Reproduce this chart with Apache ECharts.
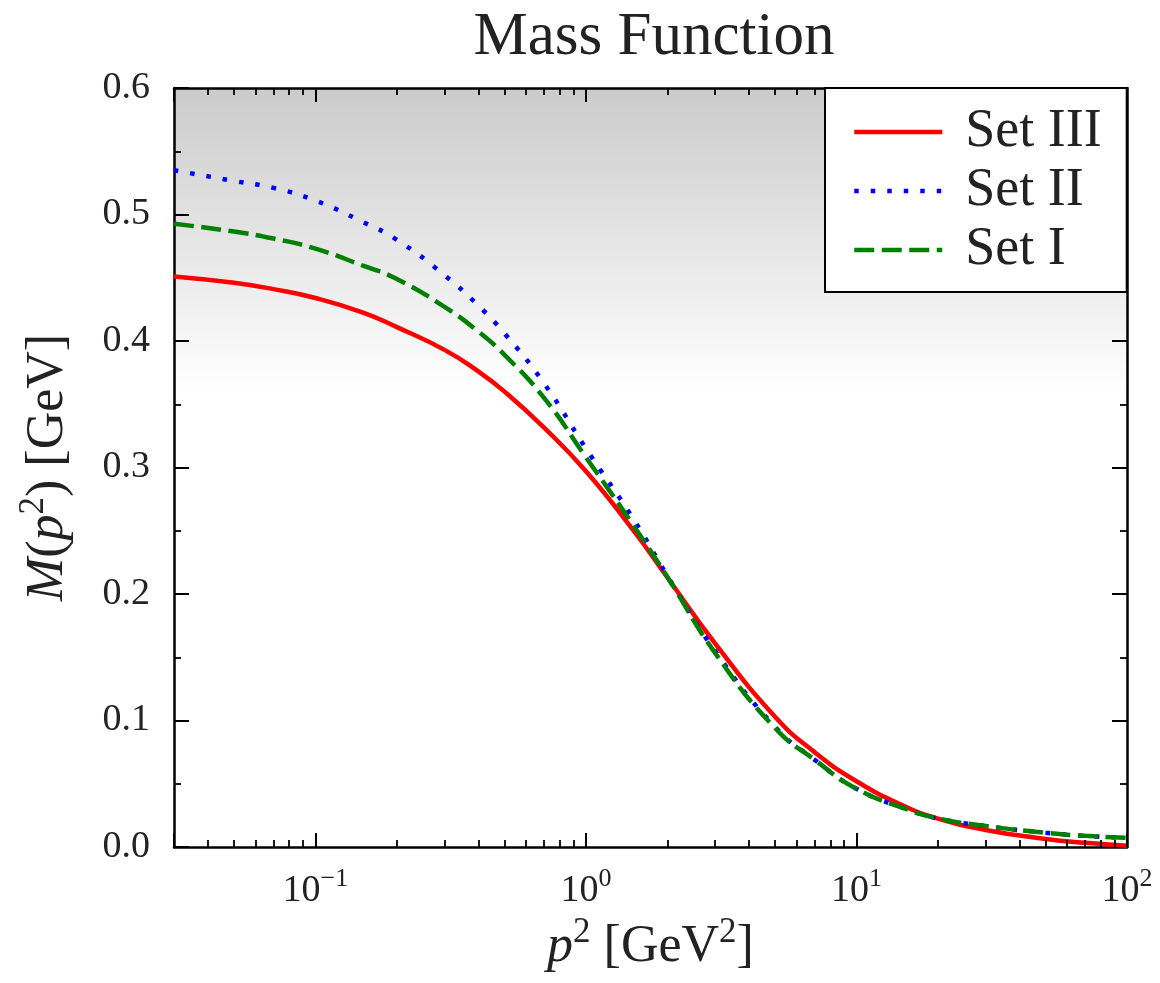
<!DOCTYPE html>
<html>
<head>
<meta charset="utf-8">
<script src="https://cdn.jsdelivr.net/npm/echarts@6/dist/echarts.min.js"></script>
<style>
  html, body { margin: 0; padding: 0; background: #fff; }
  #chart { width: 1160px; height: 983px; }
</style>
</head>
<body>
<div id="chart"></div>
<script>
// p^2 sample points in GeV^2
const momentum = [0.03, 0.05, 0.07, 0.1, 0.15, 0.2, 0.3, 0.4, 0.5, 0.7, 1.0, 1.5, 2, 3, 5, 7, 10, 15, 20, 30, 50, 70, 100];

// M(p^2) in GeV for each parameter set
const setIII = [0.451, 0.446, 0.441, 0.434, 0.4225, 0.411, 0.393, 0.376, 0.360, 0.3315, 0.297, 0.250, 0.213, 0.161, 0.103, 0.075, 0.052, 0.0324, 0.0225, 0.0135, 0.0064, 0.0033, 0.001];
const setII  = [0.535, 0.5265, 0.521, 0.511, 0.494, 0.480, 0.452, 0.428, 0.406, 0.3665, 0.315, 0.259, 0.2143, 0.155, 0.095, 0.069, 0.046, 0.0306, 0.0226, 0.0166, 0.0113, 0.0088, 0.0071];
const setI   = [0.4927, 0.4865, 0.481, 0.473, 0.4595, 0.449, 0.427, 0.4075, 0.389, 0.355, 0.308, 0.254, 0.2135, 0.1535, 0.094, 0.069, 0.046, 0.0306, 0.0226, 0.0166, 0.0113, 0.0088, 0.0072];

// x-axis decades that get a label, and the mantissas of the minor log ticks
const majorTicksX = [0.1, 1, 10, 100];
const minorMantissas = [2, 3, 4, 5, 6, 7, 8, 9];
const minorDecades = [0.01, 0.1, 1, 10];

const FONT = 'Liberation Serif';
const INK = '#222222';
const X_MIN = 0.03, X_MAX = 100;
const Y_MIN = 0, Y_MAX = 0.6;
// tick lengths along the vertical axis, in M units (about 14 px and 7 px)
const MAJOR_TICK_LEN = 0.011, MINOR_TICK_LEN = 0.0055;

const chart = echarts.init(document.getElementById('chart'), null, { renderer: 'canvas' });

function nameRich(size) {
  return {
    i: { fontFamily: FONT, fontStyle: 'italic', fontSize: size, color: INK, verticalAlign: 'bottom', lineHeight: size + 6 },
    r: { fontFamily: FONT, fontSize: size, color: INK, verticalAlign: 'bottom', lineHeight: size + 6 },
    s: { fontFamily: FONT, fontSize: Math.round(size * 0.68), color: INK, verticalAlign: 'top', lineHeight: size + 6 }
  };
}

function spine(show) {
  return { show: show, onZero: false, lineStyle: { color: '#000000', width: 2.5 } };
}

// Log x axis (bottom) carrying the data, decade labels and the axis title,
// plus a bare mirror on top for the frame.
const xAxes = [
  {
    type: 'log', logBase: 10, min: X_MIN, max: X_MAX, gridIndex: 0,
    position: 'bottom',
    axisLine: spine(true),
    axisTick: { show: true, inside: true, length: 14, lineStyle: { color: '#000000', width: 2 } },
    splitLine: { show: false },
    axisLabel: {
      show: true,
      customValues: majorTicksX.slice(),
      margin: 19,
      formatter: function (v) {
        const e = Math.round(Math.log10(v));
        return '{n|10}{s|' + (e < 0 ? '\u2212' + (-e) : e) + '}';
      },
      rich: {
        n: { fontFamily: FONT, fontSize: 38, color: INK, verticalAlign: 'bottom', lineHeight: 44 },
        s: { fontFamily: FONT, fontSize: 26, color: INK, verticalAlign: 'top', lineHeight: 44 }
      }
    },
    name: '{i|p}{s|2}{r| [GeV}{s|2}{r|]}',
    nameLocation: 'middle',
    nameGap: 63,
    nameTextStyle: { rich: nameRich(52) }
  },
  {
    type: 'log', logBase: 10, min: X_MIN, max: X_MAX, gridIndex: 0,
    position: 'top',
    axisLine: spine(true),
    axisTick: { show: true, inside: true, length: 14, lineStyle: { color: '#000000', width: 2 } },
    axisLabel: { show: false },
    splitLine: { show: false }
  }
];

function valueAxis(position, withLabels) {
  const ax = {
    type: 'value', min: Y_MIN, max: Y_MAX, interval: 0.1, gridIndex: 0,
    position: position,
    axisLine: spine(true),
    axisTick: { show: true, inside: true, length: 15, lineStyle: { color: '#000000', width: 2 } },
    minorTick: { show: true, splitNumber: 2, length: 7, lineStyle: { color: '#000000', width: 1.8 } },
    axisLabel: { show: false },
    splitLine: { show: false },
    minorSplitLine: { show: false }
  };
  if (withLabels) {
    ax.axisLabel = {
      show: true, margin: 24,
      formatter: (v) => v.toFixed(1),
      fontFamily: FONT, fontSize: 38, color: INK
    };
    ax.name = '{i|M}{r|(}{i|p}{s|2}{r|) [GeV]}';
    ax.nameLocation = 'middle';
    ax.nameGap = 100;
    ax.nameTextStyle = { rich: nameRich(52) };
  }
  return ax;
}

// tick list for the log axis: [position, isMajor]
const xTickList = majorTicksX.map((v) => [v, 1]);
minorDecades.forEach((d) => minorMantissas.forEach((m) => {
  const v = +(m * d).toPrecision(6);
  if (v > X_MIN && v < X_MAX) xTickList.push([v, 0]);
}));

// inward tick segments on the bottom and top spines, in data coordinates
const tickSegments = [];
xTickList.forEach(([v, major]) => {
  const len = major ? MAJOR_TICK_LEN : MINOR_TICK_LEN;
  const style = { color: '#000000', width: major ? 2 : 1.8, type: 'solid' };
  tickSegments.push([{ coord: [v, Y_MIN], lineStyle: style }, { coord: [v, Y_MIN + len] }]);
  tickSegments.push([{ coord: [v, Y_MAX], lineStyle: style }, { coord: [v, Y_MAX - len] }]);
});

const pairs = (ys) => momentum.map((x, i) => [x, ys[i]]);

const option = {
  backgroundColor: '#ffffff',
  animation: false,
  title: {
    text: 'Mass Function',
    left: 649, top: 2, textAlign: 'center',
    textStyle: { fontFamily: FONT, fontSize: 61, fontWeight: 'normal', color: INK }
  },
  grid: {
    left: 174, top: 88, width: 953, height: 759,
    containLabel: false, outerBoundsMode: 'none',
    show: true, borderWidth: 0,
    // grey shading that fades out below M = 0.36
    backgroundColor: new echarts.graphic.LinearGradient(0, 0, 0, 1, [
      { offset: 0, color: '#cbcbcb' },
      { offset: 0.4, color: '#ffffff' },
      { offset: 1, color: '#ffffff' }
    ])
  },
  xAxis: xAxes,
  yAxis: [
    valueAxis('left', true),
    valueAxis('right', false)
  ],
  legend: {
    data: ['Set III', 'Set II', 'Set I'],
    orient: 'vertical',
    left: 825, top: 88,
    padding: [17, 25, 15, 27],
    itemWidth: 88, itemHeight: 20, itemGap: 5,
    backgroundColor: '#ffffff',
    borderColor: '#000000', borderWidth: 2, borderRadius: 0,
    selectedMode: false,
    itemStyle: { opacity: 0 },
    lineStyle: { width: 4.5 },
    textStyle: { fontFamily: FONT, fontSize: 54, color: INK, padding: [0, 0, 0, 18] },
    z: 100
  },
  series: [
    {
      type: 'line', name: 'Set III', data: pairs(setIII), smooth: 0.5,
      xAxisIndex: 0, yAxisIndex: 0,
      symbol: 'none', z: 2, color: '#ff0000',
      lineStyle: { color: '#ff0000', width: 4.5, type: 'solid' },
      markLine: {
        silent: true, animation: false, symbol: ['none', 'none'],
        label: { show: false },
        emphasis: { disabled: true },
        lineStyle: { color: '#000000', width: 2, type: 'solid' },
        data: tickSegments
      }
    },
    {
      type: 'line', name: 'Set II', data: pairs(setII), smooth: 0.5,
      xAxisIndex: 0, yAxisIndex: 0,
      symbol: 'none', z: 3, color: '#0000ff',
      lineStyle: { color: '#0000ff', width: 4.5, type: [4.5, 12], cap: 'butt' }
    },
    {
      type: 'line', name: 'Set I', data: pairs(setI), smooth: 0.5,
      xAxisIndex: 0, yAxisIndex: 0,
      symbol: 'none', z: 4, color: '#008000',
      lineStyle: { color: '#008000', width: 4.5, type: [20, 7.5], cap: 'butt' }
    }
  ]
};

chart.setOption(option);
</script>
</body>
</html>
